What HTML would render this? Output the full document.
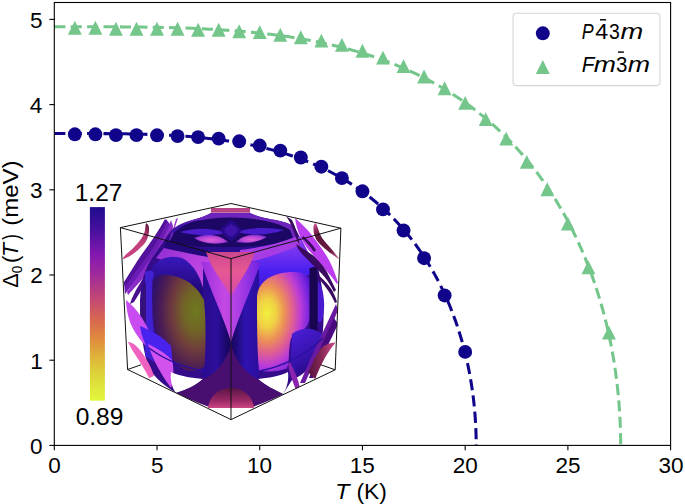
<!DOCTYPE html><html><head><meta charset="utf-8"><style>html,body{margin:0;padding:0;background:#fff;width:685px;height:504px;overflow:hidden}svg{display:block}text{font-kerning:none}</style></head><body>
<svg width="685" height="504" viewBox="0 0 685 504">
<rect width="685" height="504" fill="#fff"/>
<defs><clipPath id="ax"><rect x="54.30" y="2.50" width="616.30" height="442.90"/></clipPath>
<clipPath id="cube"><path d="M120.4,227.6 L231,203.5 L340.9,228.2 L335.2,369.8 L231,419.6 L127.6,369.5 Z"/></clipPath>
<linearGradient id="cbar" x1="0" y1="0" x2="0" y2="1">
<stop offset="0" stop-color="#1e0c8e"/>
<stop offset="0.12" stop-color="#48109e"/>
<stop offset="0.245" stop-color="#8418b0"/>
<stop offset="0.35" stop-color="#a02a9a"/>
<stop offset="0.48" stop-color="#c44a72"/>
<stop offset="0.585" stop-color="#d8684e"/>
<stop offset="0.69" stop-color="#e08e3c"/>
<stop offset="0.765" stop-color="#e0b03a"/>
<stop offset="0.87" stop-color="#dcd63a"/>
<stop offset="1" stop-color="#e2f83c"/>
</linearGradient>
<radialGradient id="gL" cx="196" cy="311" r="52" gradientUnits="userSpaceOnUse" gradientTransform="translate(196,311) scale(0.85,1.4) translate(-196,-311)">
<stop offset="0" stop-color="#6e7a20"/>
<stop offset="0.28" stop-color="#726426"/>
<stop offset="0.55" stop-color="#6e3a3e"/>
<stop offset="0.8" stop-color="#4c1c54"/>
<stop offset="1" stop-color="#30106c"/>
</radialGradient>
<radialGradient id="gR" cx="267" cy="313" r="52" gradientUnits="userSpaceOnUse" gradientTransform="translate(267,313) scale(0.9,1.4) translate(-267,-313)">
<stop offset="0" stop-color="#f2f03e"/>
<stop offset="0.2" stop-color="#f0d044"/>
<stop offset="0.38" stop-color="#ec9058"/>
<stop offset="0.55" stop-color="#e06090"/>
<stop offset="0.72" stop-color="#bc3cd8"/>
<stop offset="0.88" stop-color="#8028e0"/>
<stop offset="1" stop-color="#5018d0"/>
</radialGradient>
<linearGradient id="gColL" x1="204" y1="0" x2="230" y2="0" gradientUnits="userSpaceOnUse">
<stop offset="0" stop-color="#2a0c90"/>
<stop offset="0.5" stop-color="#2c0e9c"/>
<stop offset="1" stop-color="#150558"/>
</linearGradient>
<linearGradient id="gColR" x1="232" y1="0" x2="259" y2="0" gradientUnits="userSpaceOnUse">
<stop offset="0" stop-color="#180660"/>
<stop offset="0.5" stop-color="#3012b0"/>
<stop offset="1" stop-color="#2a0e9c"/>
</linearGradient>
<linearGradient id="gPink" x1="0" y1="250" x2="0" y2="296" gradientUnits="userSpaceOnUse">
<stop offset="0" stop-color="#c84490"/>
<stop offset="0.45" stop-color="#e65892"/>
<stop offset="1" stop-color="#d84aa8"/>
</linearGradient>
<linearGradient id="gDome" x1="0" y1="388" x2="0" y2="408" gradientUnits="userSpaceOnUse">
<stop offset="0" stop-color="#5a1448"/>
<stop offset="0.6" stop-color="#962864"/>
<stop offset="1" stop-color="#cc4684"/>
</linearGradient>
<linearGradient id="gV" x1="200" y1="0" x2="262" y2="0" gradientUnits="userSpaceOnUse">
<stop offset="0" stop-color="#9a2ee0"/>
<stop offset="0.4" stop-color="#c448e4"/>
<stop offset="0.6" stop-color="#b040e4"/>
<stop offset="1" stop-color="#6a20e0"/>
</linearGradient>
<linearGradient id="gWingL" x1="160" y1="240" x2="215" y2="290" gradientUnits="userSpaceOnUse">
<stop offset="0" stop-color="#8a2ad0"/>
<stop offset="0.5" stop-color="#b640e0"/>
<stop offset="1" stop-color="#c84ce0"/>
</linearGradient>
<linearGradient id="gArchL" x1="0" y1="255" x2="0" y2="290" gradientUnits="userSpaceOnUse">
<stop offset="0" stop-color="#3a18c0"/>
<stop offset="1" stop-color="#22087a"/>
</linearGradient>
<linearGradient id="gArchR" x1="0" y1="250" x2="0" y2="292" gradientUnits="userSpaceOnUse">
<stop offset="0" stop-color="#7a34f0"/>
<stop offset="0.5" stop-color="#4a20f0"/>
<stop offset="1" stop-color="#3a16d0"/>
</linearGradient>
<linearGradient id="gFinL" x1="0" y1="300" x2="0" y2="390" gradientUnits="userSpaceOnUse">
<stop offset="0" stop-color="#b03cf0"/>
<stop offset="1" stop-color="#d850f0"/>
</linearGradient>
<linearGradient id="gCres" x1="0" y1="0" x2="0" y2="1">
<stop offset="0" stop-color="#9a2a5a"/>
<stop offset="1" stop-color="#c84484"/>
</linearGradient>
<linearGradient id="gTop" x1="0" y1="210" x2="0" y2="250" gradientUnits="userSpaceOnUse">
<stop offset="0" stop-color="#8a34c8"/>
<stop offset="0.25" stop-color="#5a1ab0"/>
<stop offset="0.5" stop-color="#1e0868"/>
<stop offset="1" stop-color="#2a0c88"/>
</linearGradient>
<radialGradient id="gLobe" cx="0.5" cy="0.6" r="0.6">
<stop offset="0" stop-color="#e060d8"/>
<stop offset="0.6" stop-color="#b444d8"/>
<stop offset="1" stop-color="#6a24c8"/>
</radialGradient>
<linearGradient id="gCresA" x1="147" y1="223" x2="123" y2="259" gradientUnits="userSpaceOnUse">
<stop offset="0" stop-color="#5a1438"/>
<stop offset="0.2" stop-color="#a8336a"/>
<stop offset="0.5" stop-color="#c4407c"/>
<stop offset="1" stop-color="#c84480"/>
</linearGradient>
<linearGradient id="gCresC" x1="315" y1="223" x2="339" y2="259" gradientUnits="userSpaceOnUse">
<stop offset="0" stop-color="#d8589a"/>
<stop offset="0.15" stop-color="#8a2a58"/>
<stop offset="0.3" stop-color="#5a1838"/>
<stop offset="0.75" stop-color="#6a1c44"/>
<stop offset="1" stop-color="#d8589a"/>
</linearGradient>
<linearGradient id="gCresG" x1="310" y1="0" x2="334" y2="0" gradientUnits="userSpaceOnUse">
<stop offset="0" stop-color="#5a1640"/>
<stop offset="0.5" stop-color="#8a2858"/>
<stop offset="1" stop-color="#c84888"/>
</linearGradient>
<linearGradient id="gLobeR" x1="292" y1="330" x2="320" y2="372" gradientUnits="userSpaceOnUse">
<stop offset="0" stop-color="#4a1ed8"/>
<stop offset="0.5" stop-color="#3a14b4"/>
<stop offset="1" stop-color="#24087a"/>
</linearGradient>

</defs>
<g id="inset">
<rect x="89.9" y="207.1" width="15" height="193.6" fill="url(#cbar)"/>
<g clip-path="url(#cube)">
<!-- top-left fin band -->
<path d="M166,219 C161,228 155,238 148,248 C140,259 132,270 124,282 L125,294 C131,286 138,278 146,270 C154,262 161,254 167,246 C170,240 172,234 173,228 Z" fill="#6a1cb4"/>
<path d="M165,219 C159,230 151,242 142,254 C135,264 129,274 124,283 L125,287 C131,278 138,268 146,258 C154,247 161,235 167,222 Z" fill="#52129c"/>
<path d="M171,220 C168,230 162,242 154,254 C146,265 137,277 127,292 L128,295 C138,284 148,273 157,262 C165,251 170,240 173,226 Z" fill="#8a2cc8"/>
<path d="M178,218 C176,224 174,230 172,236 L170,240 C172,232 174,226 176,219 Z" fill="#9a34d0"/>
<path d="M160,252 C152,264 144,276 136,290 C133,296 131,300 130,304 L134,302 C140,292 148,280 156,268 L164,258 Z" fill="#4a1090"/>
<!-- core body -->
<path d="M170,232 C174,227 182,222.5 194,219.5 C200,218 206,216 211,213 L250,213 C256,216 264,218 272,219.5 C282,221 288,223 294,226 C302,240 308,256 318,268 C324,290 325,315 322,340 C318,358 310,372 292,380 L283,394 L254,406 L208,406 L176,393 C165,386 155,378 149,368 C143,352 140,330 140,300 C141,282 145,268 152,258 C158,250 164,240 170,232 Z" fill="#340c8a"/>
<!-- top face -->
<path d="M172,231 C176,227 184,222.5 194,219.5 C200,218 206,216 211,213 L250,213 C256,216 264,218 272,219.5 C282,221 288,223 294,226 L300,245 L231,262 L166,250 Z" fill="#6c24bc"/>
<path d="M172,231 C176,227 182,224 190,222 L200,220 L196,226 C188,228 180,232 174,238 Z" fill="#3a12a8"/>
<path d="M174,233 C180,227 188,223 196,221 C206,219 218,217.4 231,217.4 C244,217.4 256,219 266,221 C276,223 284,226 290,230 L296,246 L231,262 L166,248 Z" fill="#1c0864"/>
<path d="M180,232 C192,228 210,227 227,233 C212,236 194,236 180,232 Z" fill="#4a1ccc"/>
<path d="M236,232 C252,227 270,227 284,230 C270,235 252,236 236,232 Z" fill="#4a1ccc"/>
<path d="M194,238 C204,233 218,233 228,242 C216,245 204,244 194,238 Z" fill="url(#gLobe)"/>
<path d="M236,242 C246,233 258,233 267,237 C258,242 248,244 236,242 Z" fill="url(#gLobe)"/>
<path d="M231,220 C236,224 240,227 242,230 C240,234 236,238 231,241 C226,238 222,234 220,230 C222,227 226,224 231,220 Z" fill="#28098a"/>
<path d="M231,224 C234,226 237,228 238,230 C237,233 234,235 231,237 C228,235 225,233 224,230 C225,228 228,226 231,224 Z" fill="#3e14a8"/>
<path d="M211,208 L250,208 L250,212.7 L211,212.7 Z" fill="#b84484"/>
<path d="M168,244 C190,247 212,247 231,247 C252,247 275,245 296,240 L298,248 L231,262 L166,250 Z" fill="#2a0c8c"/>
<!-- upper-left wing -->
<path d="M166,240 C180,244 196,248 212,252 L214,258 C196,256 180,252 164,250 Z" fill="#22087a"/>
<path d="M164,248 C182,252 200,256 215,258 L214,266 C208,274 204,282 202,292 C192,276 176,264 156,258 Z" fill="url(#gWingL)"/>
<!-- arch above left blob -->
<path d="M150,272 C154,260 168,254 182,258 C194,264 201,278 204,292 L204,300 L150,300 Z" fill="url(#gArchL)"/>
<!-- upper-right arch -->
<path d="M252,256 C272,250 290,242 300,236 C306,248 312,260 318,270 L312,274 L300,278 L258,294 Z" fill="url(#gArchR)"/>
<path d="M240,250 C258,248 278,244 298,236 L302,244 C284,252 266,258 250,262 L240,262 Z" fill="#a83ce4"/>
<!-- columns -->
<path d="M203,262 L230,262 L230,394 L203,394 Z" fill="url(#gColL)"/>
<path d="M232,262 L259,270 L259,394 L232,394 Z" fill="url(#gColR)"/>
<!-- left blue band + dark crescent -->
<path d="M145,272 C148,270 151,270 153.5,272 L153.5,362 L145,356 Z" fill="#4020d0"/>
<path d="M146,282 C141,292 139,310 141,322 C142,330 145,336 146,338 Z" fill="#34107a"/>
<!-- left blob -->
<path d="M152.5,280 C156,274 166,273.5 177,276.8 C188,280 197,287 204,300 C206,320 206,345 204.5,366 C200,371 192,372 185,370 C177,366 171,357 165,349 C159,341 154.5,332 153,322 C152,308 152,292 152.5,280 Z" fill="url(#gL)"/>
<!-- right blob -->
<path d="M257,296 C258,284 268,276 280,273.5 C292,271 304,271 310,279 C311,292 311,310 309.5,320 C307,330 298,334 291,338 C288,350 290,362 287,368.5 C278,372 266,372 259,370.5 C257,350 257,320 257,296 Z" fill="url(#gR)"/>
<!-- right dark bar + lobe -->
<path d="M309.5,268 L317.5,266 L317.5,342 L309.5,342 Z" fill="#1a0650"/>
<path d="M318,281 C325,290 326,312 321,322 L318,322 Z" fill="#4a1ad0"/>
<path d="M292,334 C300,328 312,326 322,334 C324,350 316,366 298,374 L290,376 Z" fill="url(#gLobeR)"/>
<!-- magenta V -->
<path d="M201,262 L261,262 C250,292 238,318 231,342 C224,318 211,292 201,262 Z" fill="url(#gV)"/>
<!-- pink triangle -->
<path d="M206,252 L255,252 C248,272 237,285 231,296 C225,285 213,272 206,252 Z" fill="url(#gPink)"/>
<!-- left lower fins -->
<path d="M126,300 C131,304 137,310 142,318 C147,326 151,334 152,341 L146,346 C140,340 134,332 130,322 C128,316 126,308 126,300 Z" fill="#c84cf0"/>
<path d="M140,326 C150,330 162,336 171,346 L173,366 C164,362 154,356 148,350 C144,342 141,334 140,326 Z" fill="#4a22ee"/>
<path d="M148,344 C156,348 164,352 172,360 C174,368 174,378 171,388 C165,380 159,370 155,362 C152,356 150,350 148,344 Z" fill="#d252f0"/>
<path d="M128,342 C131,342 135,344 140,350 C146,358 151,366 154,376 L149,378 C145,370 140,362 136,356 C132,350 130,346 128,342 Z" fill="#f062c0"/>
<!-- white holes -->
<path d="M171,372 C180,376 192,378 203,379 C195,386 186,390 176,393 C172,388 170,380 171,372 Z" fill="#fff"/>
<path d="M288,372 C280,376 268,378 258,379 C266,386 275,390 283,394 C287,388 289,380 288,372 Z" fill="#fff"/>
<!-- tent -->
<path d="M231,345 C236,362 246,374 258,379 C266,386 275,390 283,394 C276,398 266,402 254,406.5 L208,406.5 C196,402 186,398 176,393 C186,390 195,386 203,379 C216,374 226,362 231,345 Z" fill="#480e70"/>
<!-- dome -->
<path d="M208,408 C210,393 222,388 231,388 C240,388 252,393 254,408 Z" fill="url(#gDome)"/>
<!-- right fins -->
<path d="M295,218 C296,226 298,232 301,238 C305,246 310,252 316,258 C322,266 330,274 337,284 L338,283 C336,276 334,270 330,262 C326,254 320,246 314,238 C308,230 302,224 295,218 Z" fill="#bc3cf0"/>
<path d="M286,216 C290,222 294,230 296,238 L300,246 C298,236 296,228 292,220 Z" fill="#3a0a60"/>
<path d="M296,244 C302,248 308,252 314,256 C320,262 325,268 327,272 C330,278 333,284 336,290 L334,292 C330,284 326,278 322,274 C316,268 310,262 304,256 C300,252 297,248 296,244 Z" fill="#3a0a60"/>
<path d="M303,236 C308,240 312,244 316,250 L314,252 C310,246 306,242 302,238 Z" fill="#3a0a60"/>
<path d="M317,274 C322,278 328,284 332,290 C334,294 336,298 337,302 L335,303 C332,296 328,290 324,285 C321,281 318,278 317,274 Z" fill="#3a0a60"/>
<path d="M336,304 C326,326 314,350 300,383 L305,383 C318,354 330,330 338,310 Z" fill="#6a1aa0"/>
<path d="M334,318 C324,338 316,358 309,378 L313,378 C320,360 330,342 338,324 Z" fill="#4a0a80"/>
<path d="M290,362 C294,370 298,378 300,388 L296,390 C292,380 289,372 288,364 Z" fill="#8a24b0"/>
<!-- crescents -->
<path d="M146.8,223.4 C147.4,223.7 148.6,225.1 148.9,227.0 C149.2,228.9 149.2,232.3 148.5,235.0 C147.8,237.7 146.8,240.4 145.0,242.9 C143.2,245.4 140.5,247.7 138.0,249.9 C135.5,252.1 132.5,254.4 130.0,255.9 C127.5,257.4 123.5,259.1 122.8,258.9 C122.1,258.7 124.2,256.5 126.0,254.6 C127.8,252.7 131.3,250.1 133.7,247.6 C136.1,245.1 138.8,242.2 140.6,239.6 C142.4,237.0 143.8,234.3 144.6,231.9 C145.4,229.5 145.2,226.4 145.6,225.0 C146.0,223.6 146.2,223.1 146.8,223.4 Z" fill="url(#gCresA)"/>
<path d="M314.9,223.4 C314.4,223.8 313.5,225.0 313.4,226.9 C313.3,228.8 313.6,232.4 314.4,234.9 C315.1,237.4 316.1,239.5 317.9,241.8 C319.6,244.1 322.4,246.5 324.9,248.7 C327.4,250.8 330.4,253.0 332.8,254.7 C335.2,256.4 338.6,259.1 339.0,258.9 C339.4,258.7 336.6,255.6 335.0,253.5 C333.4,251.4 331.2,248.9 329.2,246.6 C327.2,244.3 324.9,242.0 323.2,239.6 C321.5,237.2 320.3,234.4 319.2,231.9 C318.1,229.4 317.3,226.0 316.6,224.6 C315.9,223.2 315.4,223.0 314.9,223.4 Z" fill="url(#gCresC)"/>
<path d="M335.0,342.6 C335.7,343.2 333.0,345.6 331.7,347.5 C330.4,349.4 328.8,351.6 327.3,354.0 C325.8,356.4 324.2,359.3 322.9,361.7 C321.6,364.1 320.8,365.8 319.7,368.2 C318.6,370.6 317.2,374.2 316.4,375.9 C315.6,377.6 316.0,379.2 314.7,378.6 C313.4,378.1 309.5,374.2 308.7,372.6 C307.9,371.1 309.1,371.1 309.8,369.3 C310.5,367.5 311.8,364.2 313.1,361.7 C314.4,359.1 316.1,356.4 317.5,354.0 C318.9,351.6 320.2,349.1 321.8,347.5 C323.4,345.9 325.1,345.0 327.3,344.2 C329.5,343.4 334.3,342.1 335.0,342.6 Z" fill="url(#gCresG)"/>
<!-- thin arcs -->
<path d="M149,348 C165,360 185,368 206,371" fill="none" stroke="#2a10a0" stroke-width="1.5"/>
<path d="M260,371 C285,366 305,355 323,338" fill="none" stroke="#2a10a0" stroke-width="1.5"/>
</g>
<!-- wireframe -->
<g fill="none" stroke="#111" stroke-width="1" stroke-linejoin="round">
<path d="M120.4,227.6 L231,203.5 L340.9,228.2 L231,258.6 Z"/>
<path d="M120.4,227.6 L127.6,369.5 L231,419.6 L335.2,369.8 L340.9,228.2"/>
<path d="M231,258.6 L231,419.6"/>
<path d="M127.6,369.5 L141,364.8 M335.2,369.8 L320.6,364.7"/>
</g>
</g>

<g clip-path="url(#ax)" fill="none" stroke-width="3.05" stroke-dasharray="11.1 5.3">
<path d="M54.30,133.52 L60.74,133.52 L67.17,133.52 L73.61,133.52 L80.04,133.53 L86.48,133.54 L92.91,133.56 L99.35,133.58 L105.78,133.62 L112.22,133.68 L118.66,133.75 L125.09,133.84 L131.53,133.96 L137.96,134.10 L144.40,134.27 L150.83,134.47 L157.27,134.71 L163.70,134.99 L170.14,135.32 L176.58,135.69 L183.01,136.11 L189.45,136.59 L195.88,137.13 L202.32,137.73 L208.75,138.40 L215.19,139.15 L221.62,139.98 L228.06,140.89 L234.50,141.89 L240.93,142.98 L247.37,144.18 L253.80,145.48 L260.24,146.90 L266.67,148.44 L273.11,150.11 L279.54,151.91 L285.98,153.85 L292.42,155.95 L298.85,158.21 L305.29,160.63 L311.72,163.24 L318.16,166.04 L324.59,169.04 L331.03,172.26 L337.46,175.72 L343.90,179.41 L350.33,183.38 L356.77,187.62 L363.21,192.17 L369.64,197.05 L376.08,202.28 L382.51,207.90 L388.95,213.95 L395.38,220.46 L401.82,227.49 L408.25,235.10 L414.69,243.36 L421.13,252.36 L427.56,262.24 L434.00,273.14 L434.00,273.14 L438.64,281.77 L442.77,290.09 L446.45,298.08 L449.72,305.75 L452.63,313.09 L455.23,320.11 L457.53,326.80 L459.58,333.18 L461.41,339.25 L463.04,345.02 L464.48,350.50 L465.77,355.71 L466.92,360.64 L467.94,365.32 L468.85,369.76 L469.65,373.96 L470.37,377.93 L471.01,381.69 L471.58,385.25 L472.09,388.62 L472.54,391.80 L472.94,394.80 L473.30,397.64 L473.62,400.33 L473.90,402.86 L474.15,405.25 L474.37,407.52 L474.57,409.65 L474.75,411.67 L474.91,413.57 L475.05,415.37 L475.17,417.06 L475.29,418.66 L475.38,420.17 L475.47,421.60 L475.55,422.94 L475.62,424.21 L475.68,425.41 L475.74,426.54 L475.79,427.61 L475.83,428.61 L475.87,429.56 L475.91,430.46 L475.94,431.30 L475.96,432.10 L475.99,432.86 L476.01,433.57 L476.03,434.23 L476.05,434.87 L476.06,435.46 L476.08,436.03 L476.09,436.56 L476.10,437.06 L476.11,437.53 L476.12,437.97 L476.12,438.40 L476.13,438.79 L476.14,439.17 L476.14,439.52 L476.15,439.85 L476.15,440.17 L476.15,440.46 L476.16,440.74 L476.16,441.01 L476.16,441.25 L476.17,441.49 L476.17,441.71 L476.17,441.92 L476.17,442.12 L476.17,442.30 L476.17,442.48 L476.18,442.64 L476.18,442.80 L476.18,442.95 L476.18,443.09 L476.18,443.22 L476.18,443.34 L476.18,443.46 L476.18,443.57 L476.19,445.40" stroke="#0f048a"/>
<path d="M54.30,26.75 L62.94,26.75 L71.58,26.75 L80.22,26.76 L88.86,26.76 L97.50,26.78 L106.13,26.80 L114.77,26.84 L123.41,26.90 L132.05,26.97 L140.69,27.06 L149.33,27.19 L157.97,27.34 L166.61,27.53 L175.25,27.76 L183.89,28.03 L192.52,28.35 L201.16,28.72 L209.80,29.15 L218.44,29.65 L227.08,30.21 L235.72,30.85 L244.36,31.57 L253.00,32.38 L261.64,33.28 L270.28,34.28 L278.92,35.38 L287.55,36.60 L296.19,37.94 L304.83,39.40 L313.47,41.01 L322.11,42.75 L330.75,44.65 L339.39,46.71 L348.03,48.94 L356.67,51.36 L365.31,53.96 L373.95,56.77 L382.58,59.80 L391.22,63.05 L399.86,66.54 L408.50,70.30 L417.14,74.32 L425.78,78.64 L434.42,83.27 L443.06,88.23 L451.70,93.54 L460.34,99.24 L468.97,105.34 L477.61,111.89 L486.25,118.91 L494.89,126.45 L503.53,134.57 L512.17,143.30 L520.81,152.74 L529.45,162.95 L538.09,174.04 L546.73,186.13 L555.37,199.39 L564.00,214.03 L564.00,214.03 L570.24,225.62 L575.78,236.79 L580.72,247.52 L585.11,257.82 L589.02,267.68 L592.50,277.10 L595.60,286.09 L598.35,294.66 L600.81,302.81 L602.99,310.56 L604.93,317.93 L606.66,324.92 L608.20,331.55 L609.57,337.84 L610.78,343.79 L611.87,349.43 L612.83,354.77 L613.69,359.82 L614.46,364.60 L615.14,369.12 L615.74,373.39 L616.28,377.43 L616.76,381.25 L617.19,384.85 L617.57,388.26 L617.91,391.47 L618.21,394.51 L618.47,397.38 L618.71,400.08 L618.92,402.64 L619.11,405.05 L619.28,407.33 L619.43,409.48 L619.56,411.51 L619.68,413.43 L619.79,415.23 L619.88,416.94 L619.96,418.55 L620.04,420.07 L620.10,421.50 L620.16,422.85 L620.22,424.13 L620.26,425.33 L620.30,426.47 L620.34,427.54 L620.37,428.55 L620.40,429.50 L620.43,430.40 L620.45,431.25 L620.47,432.05 L620.49,432.81 L620.51,433.52 L620.52,434.19 L620.53,434.83 L620.55,435.43 L620.56,435.99 L620.56,436.52 L620.57,437.03 L620.58,437.50 L620.59,437.95 L620.59,438.37 L620.60,438.77 L620.60,439.14 L620.61,439.50 L620.61,439.83 L620.61,440.15 L620.62,440.44 L620.62,440.72 L620.62,440.99 L620.62,441.24 L620.62,441.47 L620.63,441.70 L620.63,441.91 L620.63,442.10 L620.63,442.29 L620.63,442.47 L620.63,442.63 L620.63,442.79 L620.63,442.94 L620.64,445.40" stroke="#74c68b"/>
</g>
<g fill="#0f048a">
<circle cx="74.84" cy="134.30" r="6.95"/>
<circle cx="95.39" cy="134.30" r="6.95"/>
<circle cx="115.93" cy="135.10" r="6.95"/>
<circle cx="136.47" cy="135.10" r="6.95"/>
<circle cx="157.02" cy="135.30" r="6.95"/>
<circle cx="177.56" cy="136.10" r="6.95"/>
<circle cx="198.10" cy="137.10" r="6.95"/>
<circle cx="218.65" cy="138.60" r="6.95"/>
<circle cx="239.19" cy="141.30" r="6.95"/>
<circle cx="259.73" cy="145.55" r="6.95"/>
<circle cx="280.28" cy="150.60" r="6.95"/>
<circle cx="300.82" cy="157.50" r="6.95"/>
<circle cx="321.36" cy="166.70" r="6.95"/>
<circle cx="341.91" cy="178.10" r="6.95"/>
<circle cx="362.45" cy="191.30" r="6.95"/>
<circle cx="382.99" cy="209.40" r="6.95"/>
<circle cx="403.54" cy="230.50" r="6.95"/>
<circle cx="424.08" cy="258.20" r="6.95"/>
<circle cx="444.62" cy="295.45" r="6.95"/>
<circle cx="465.17" cy="351.90" r="6.95"/>
</g><g fill="#74c68b">
<path d="M74.84,20.85 L67.89,34.75 L81.79,34.75 Z"/>
<path d="M95.39,20.85 L88.44,34.75 L102.34,34.75 Z"/>
<path d="M115.93,21.75 L108.98,35.65 L122.88,35.65 Z"/>
<path d="M136.47,21.75 L129.52,35.65 L143.42,35.65 Z"/>
<path d="M157.02,21.85 L150.07,35.75 L163.97,35.75 Z"/>
<path d="M177.56,21.85 L170.61,35.75 L184.51,35.75 Z"/>
<path d="M198.10,22.85 L191.15,36.75 L205.05,36.75 Z"/>
<path d="M218.65,22.85 L211.70,36.75 L225.60,36.75 Z"/>
<path d="M239.19,24.35 L232.24,38.25 L246.14,38.25 Z"/>
<path d="M259.73,25.20 L252.78,39.10 L266.68,39.10 Z"/>
<path d="M280.28,27.75 L273.33,41.65 L287.23,41.65 Z"/>
<path d="M300.82,30.25 L293.87,44.15 L307.77,44.15 Z"/>
<path d="M321.36,33.65 L314.41,47.55 L328.31,47.55 Z"/>
<path d="M341.91,37.95 L334.96,51.85 L348.86,51.85 Z"/>
<path d="M362.45,43.85 L355.50,57.75 L369.40,57.75 Z"/>
<path d="M382.99,50.65 L376.04,64.55 L389.94,64.55 Z"/>
<path d="M403.54,59.15 L396.59,73.05 L410.49,73.05 Z"/>
<path d="M424.08,69.60 L417.13,83.50 L431.03,83.50 Z"/>
<path d="M444.62,81.35 L437.67,95.25 L451.57,95.25 Z"/>
<path d="M465.17,95.95 L458.22,109.85 L472.12,109.85 Z"/>
<path d="M485.71,112.15 L478.76,126.05 L492.66,126.05 Z"/>
<path d="M506.25,131.65 L499.30,145.55 L513.20,145.55 Z"/>
<path d="M526.80,154.95 L519.85,168.85 L533.75,168.85 Z"/>
<path d="M547.34,182.25 L540.39,196.15 L554.29,196.15 Z"/>
<path d="M567.88,216.65 L560.93,230.55 L574.83,230.55 Z"/>
<path d="M588.43,260.45 L581.48,274.35 L595.38,274.35 Z"/>
<path d="M608.97,325.65 L602.02,339.55 L615.92,339.55 Z"/>
</g>
<rect x="54.30" y="2.50" width="616.30" height="442.90" fill="none" stroke="#000" stroke-width="1.1"/>
<g stroke="#000" stroke-width="1.1">
<line x1="54.30" y1="445.40" x2="54.30" y2="450.30"/>
<line x1="157.02" y1="445.40" x2="157.02" y2="450.30"/>
<line x1="259.73" y1="445.40" x2="259.73" y2="450.30"/>
<line x1="362.45" y1="445.40" x2="362.45" y2="450.30"/>
<line x1="465.17" y1="445.40" x2="465.17" y2="450.30"/>
<line x1="567.88" y1="445.40" x2="567.88" y2="450.30"/>
<line x1="670.60" y1="445.40" x2="670.60" y2="450.30"/>
<line x1="49.40" y1="445.40" x2="54.30" y2="445.40"/>
<line x1="49.40" y1="360.20" x2="54.30" y2="360.20"/>
<line x1="49.40" y1="275.00" x2="54.30" y2="275.00"/>
<line x1="49.40" y1="189.80" x2="54.30" y2="189.80"/>
<line x1="49.40" y1="104.60" x2="54.30" y2="104.60"/>
<line x1="49.40" y1="19.40" x2="54.30" y2="19.40"/>
</g>
<g font-family="Liberation Sans, sans-serif" fill="#000">
<text transform="translate(48.34,472.70) scale(1.0000,1)" font-size="22.50">0</text>
<text transform="translate(151.08,472.70) scale(1.0000,1)" font-size="22.50">5</text>
<text transform="translate(247.10,472.70) scale(1.0000,1)" font-size="22.50">10</text>
<text transform="translate(349.85,472.70) scale(1.0000,1)" font-size="22.50">15</text>
<text transform="translate(452.83,472.70) scale(1.0000,1)" font-size="22.50">20</text>
<text transform="translate(555.58,472.70) scale(1.0000,1)" font-size="22.50">25</text>
<text transform="translate(658.40,472.70) scale(1.0000,1)" font-size="22.50">30</text>
<text transform="translate(29.97,453.80) scale(1.0000,1)" font-size="22.50">0</text>
<text transform="translate(30.19,368.60) scale(1.0000,1)" font-size="22.50">1</text>
<text transform="translate(30.22,283.40) scale(1.0000,1)" font-size="22.50">2</text>
<text transform="translate(30.08,198.20) scale(1.0000,1)" font-size="22.50">3</text>
<text transform="translate(29.75,113.00) scale(1.0000,1)" font-size="22.50">4</text>
<text transform="translate(30.03,27.80) scale(1.0000,1)" font-size="22.50">5</text>
<text transform="translate(335.21,499.00) scale(1.0343,1)" font-size="22.50" font-style="italic">T</text>
<text transform="translate(356.38,499.00) scale(1.0146,1)" font-size="22.50">(K)</text>
<text transform="translate(74.73,200.90) scale(1.0656,1)" font-size="23.00">1.27</text>
<text transform="translate(75.64,425.00) scale(1.0683,1)" font-size="23.00">0.89</text>
<g transform="translate(17.7,288) rotate(-90)">
<text transform="translate(0.16,0.00) scale(0.9577,1)" font-size="22.50">Δ</text>
<text transform="translate(14.67,3.90) scale(0.8773,1)" font-size="15.50">0</text>
<text transform="translate(24.92,0.00) scale(0.9890,1)" font-size="22.50">(</text>
<text transform="translate(30.94,0.00) scale(1.0190,1)" font-size="22.50" font-style="italic">T</text>
<text transform="translate(48.20,0.00) scale(0.7376,1)" font-size="22.50">)</text>
<text transform="translate(62.21,0.00) scale(1.0674,1)" font-size="22.50">(meV)</text>
</g>
</g>
<rect x="513" y="13.3" width="146.9" height="72.3" rx="3.5" fill="#fff" fill-opacity="0.8" stroke="#d5d5d5" stroke-width="1.1"/>
<circle cx="542.8" cy="33.3" r="6.95" fill="#0f048a"/>
<path d="M542.80,60.05 L535.85,73.95 L549.75,73.95 Z" fill="#74c68b"/>
<g font-family="Liberation Sans, sans-serif" fill="#000">
<text transform="translate(581.75,38.80) scale(0.7903,1)" font-size="22.50" font-style="italic">P</text>
<text transform="translate(595.37,38.80) scale(1.0319,1)" font-size="22.50">4</text>
<text transform="translate(608.96,38.80) scale(0.8624,1)" font-size="22.50">3</text>
<text transform="translate(620.45,38.80) scale(1.2121,1)" font-size="22.50" font-style="italic">m</text>
<rect x="600" y="19.1" width="6.1" height="1.4"/>
<text transform="translate(581.66,71.60) scale(0.9216,1)" font-size="22.50" font-style="italic">F</text>
<text transform="translate(593.76,71.60) scale(1.1832,1)" font-size="22.50" font-style="italic">m</text>
<text transform="translate(616.12,71.60) scale(0.9093,1)" font-size="22.50">3</text>
<text transform="translate(627.76,71.60) scale(1.1890,1)" font-size="22.50" font-style="italic">m</text>
<rect x="618" y="51.4" width="5.9" height="1.4"/>
</g>
</svg></body></html>
